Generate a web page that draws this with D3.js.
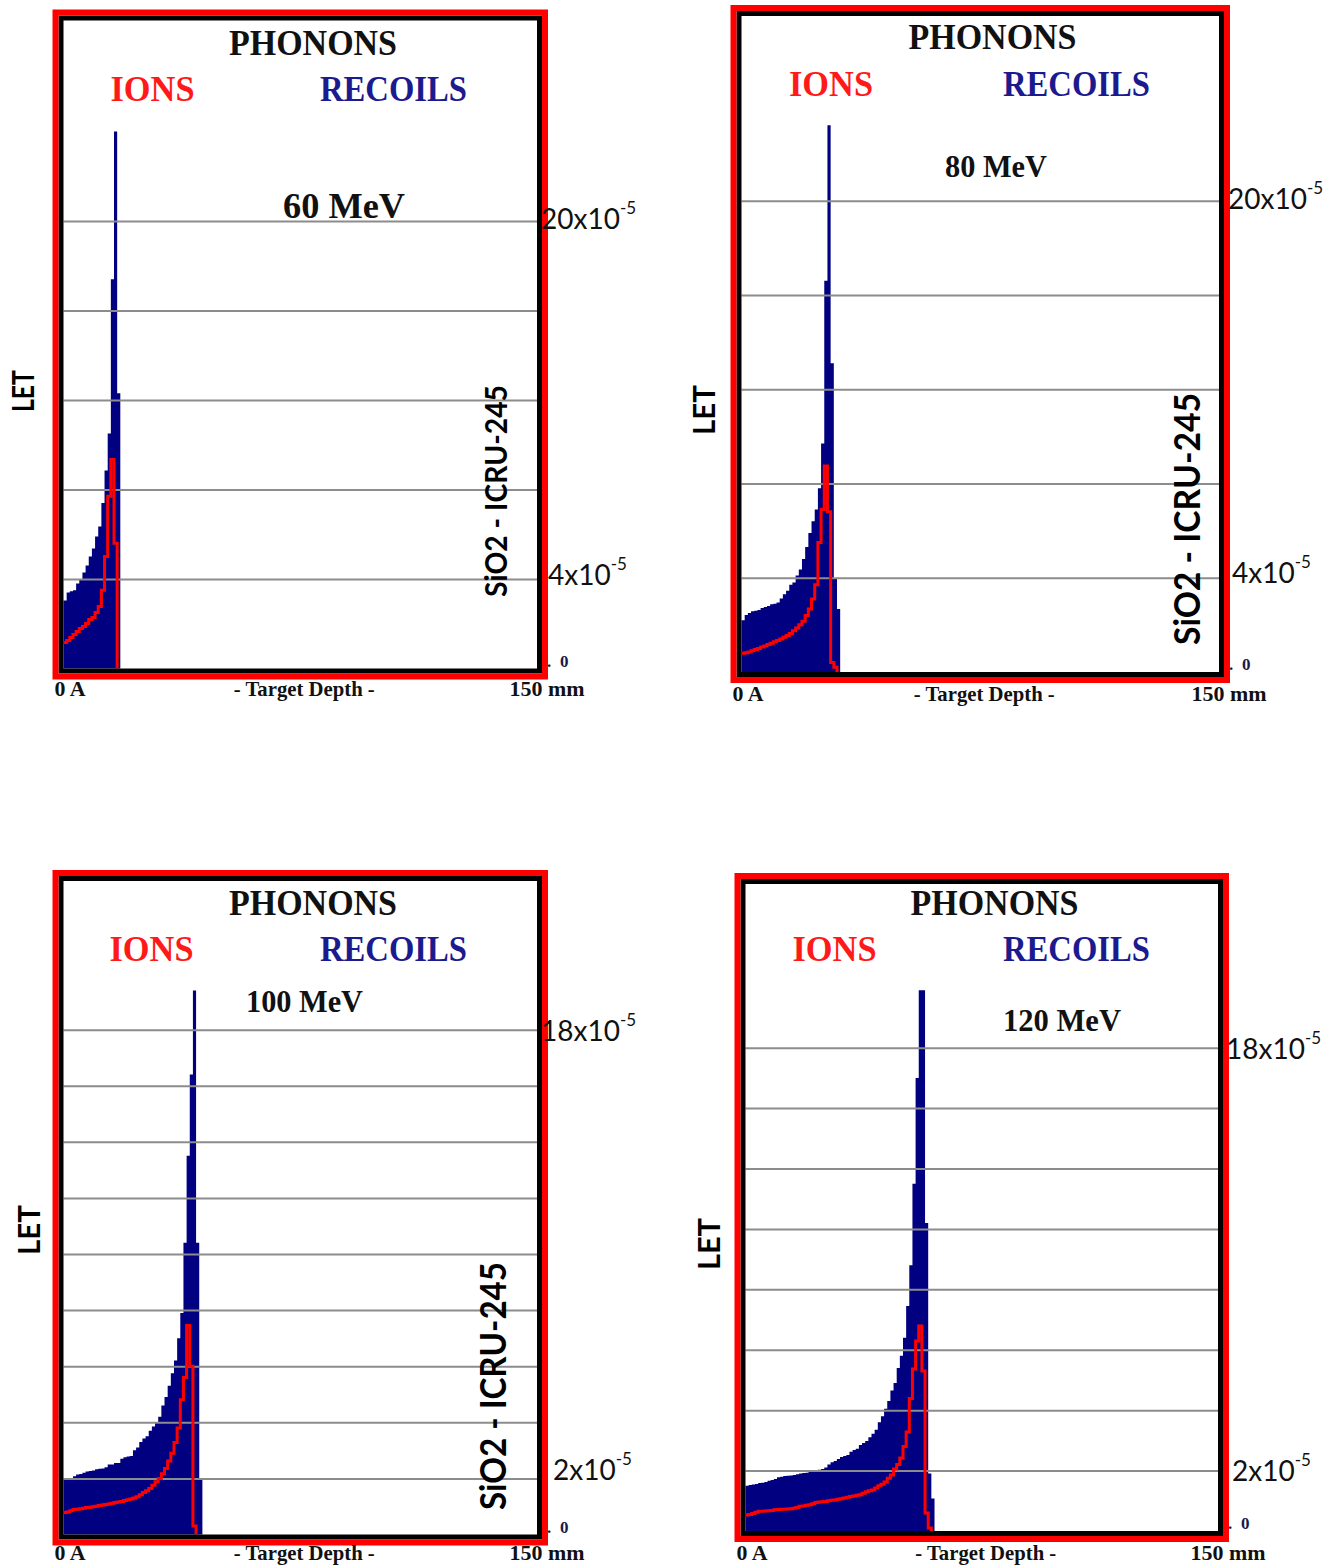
<!DOCTYPE html>
<html>
<head>
<meta charset="utf-8">
<script src="https://cdn.jsdelivr.net/npm/d3@7"></script>
<style>
  body { margin: 0; background: #fff; }
</style>
</head>
<body>
<svg id="chart"></svg>
<script>
// SRIM phonon LET profiles (SiO2 target).
// Depth bins are 1 mm wide, LET values are in units of 1e-5.

const energies = ['60 MeV', '80 MeV', '100 MeV', '120 MeV'];
const depthMax = 150;   // mm, "0 A" .. "150 mm"
const binWidth = 1;     // mm

// blue histogram (recoils)
const recoils60 = [3.04, 3.40, 3.45, 3.5, 3.8, 3.95, 4.29, 4.6, 5.0, 5.36, 5.9, 6.35,
    7.4, 8.85, 10.5, 17.4, 24.0, 12.3];
const recoils80 = [2.2, 2.42, 2.5, 2.58, 2.6, 2.63, 2.72, 2.76, 2.8, 2.88, 2.9, 2.95,
    3.12, 3.3, 3.45, 3.7, 3.8, 4.1, 4.35, 4.8, 5.3, 5.9, 6.4, 6.9, 7.8, 9.7, 16.6,
    23.2, 13.1, 3.95, 2.67];
const recoils100 = [1.96, 1.96, 1.98, 2.08, 2.14, 2.16, 2.2, 2.25, 2.26, 2.28, 2.33,
    2.34, 2.35, 2.4, 2.5, 2.5, 2.55, 2.55, 2.7, 2.75, 2.78, 2.8, 3.0, 3.1, 3.3, 3.42,
    3.5, 3.7, 3.85, 4.0, 4.2, 4.6, 4.9, 5.3, 5.75, 6.2, 7.0, 7.9, 10.4, 13.5, 16.4,
    19.4, 10.4, 1.96];
const recoils120 = [1.5, 1.52, 1.54, 1.56, 1.59, 1.6, 1.62, 1.66, 1.69, 1.72, 1.78,
    1.8, 1.82, 1.83, 1.84, 1.85, 1.88, 1.9, 1.92, 1.93, 1.95, 1.96, 1.98, 2.03, 2.05,
    2.1, 2.2, 2.28, 2.32, 2.38, 2.45, 2.48, 2.52, 2.62, 2.68, 2.72, 2.85, 2.91, 2.98,
    3.1, 3.22, 3.35, 3.6, 3.8, 4.05, 4.3, 4.65, 4.9, 5.4, 5.8, 6.4, 7.45, 8.8, 11.5,
    15.0, 17.9, 17.9, 10.2, 1.9, 1.08];

// red step line (ions)
const ions60 = [1.16, 1.25, 1.39, 1.52, 1.65, 1.79, 1.88, 2.01, 2.19, 2.28, 2.5, 2.77,
    3.5, 5.0, 7.7, 9.34, 5.6];
const ions80 = [0.8, 0.82, 0.85, 0.9, 0.95, 1.0, 1.06, 1.1, 1.17, 1.22, 1.28, 1.34,
    1.4, 1.48, 1.55, 1.63, 1.75, 1.87, 2.0, 2.15, 2.4, 2.67, 3.1, 3.7, 5.5, 6.9, 8.74,
    6.8, 0.4, 0.2];
const ions100 = [0.78, 0.8, 0.85, 0.89, 0.9, 0.92, 0.94, 0.96, 0.97, 0.99, 1.01, 1.03,
    1.05, 1.07, 1.09, 1.11, 1.14, 1.16, 1.18, 1.21, 1.24, 1.27, 1.3, 1.35, 1.42, 1.5,
    1.56, 1.64, 1.76, 1.88, 2.0, 2.17, 2.35, 2.62, 2.9, 3.28, 3.8, 4.8, 5.6, 7.45, 6.0,
    0.3];
const ions120 = [0.53, 0.55, 0.58, 0.62, 0.65, 0.65, 0.66, 0.67, 0.68, 0.7, 0.71, 0.72,
    0.72, 0.73, 0.74, 0.75, 0.78, 0.82, 0.83, 0.85, 0.87, 0.9, 0.94, 0.96, 0.97, 0.98,
    1.0, 1.02, 1.03, 1.05, 1.07, 1.09, 1.12, 1.14, 1.16, 1.18, 1.2, 1.25, 1.3, 1.33,
    1.36, 1.42, 1.5, 1.55, 1.62, 1.75, 1.85, 2.05, 2.2, 2.42, 2.8, 3.28, 4.39, 5.36,
    6.29, 6.79, 5.3, 0.6, 0.1];

// horizontal grid lines
const grid60 = [4, 8, 12, 16, 20];
const grid80 = [4, 8, 12, 16, 20];
const grid100 = [2, 4, 6, 8, 10, 12, 14, 16, 18];
const grid120 = [2, 4, 6, 8, 10, 12, 14, 16];

// right-hand labels: grid value they sit on, and the printed mantissa
const labelAt60 = [20, 4];   const labelText60 = ['20', '4'];
const labelAt80 = [20, 4];   const labelText80 = ['20', '4'];
const labelAt100 = [18, 2];  const labelText100 = ['18', '2'];
const labelAt120 = [16, 2];  const labelText120 = ['18', '2'];

const xLabels = ['0 A', '- Target Depth -', '150 mm'];

// ---- layout (pixels) ----
const layout = [
    {   // 60 MeV, top left
        x0: 63.5, x1: 537, top: 20.5, bottom: 668.5, yMax: 28.96,
        phonons: [313, 55], ions: [152.5, 101], recoils: [393.5, 101],
        energy: [344, 218, 36, 122], let: [22, 391, 42], sio2: [495, 491, 212, 31],
        labelPos: [[4, -3], [11, -5]], xLabelY: 696
    },
    {   // 80 MeV, top right
        x0: 741.5, x1: 1219, top: 16, bottom: 672, yMax: 27.84,
        phonons: [992.5, 49], ions: [831, 96], recoils: [1076.5, 96],
        energy: [996, 177, 32, 102], let: [703, 410, 50], sio2: [1186, 519, 252, 36],
        labelPos: [[9, -3], [13, -6]], xLabelY: 701
    },
    {   // 100 MeV, bottom left
        x0: 63.5, x1: 537, top: 881, bottom: 1534.5, yMax: 23.3,
        phonons: [313, 915], ions: [151.5, 961], recoils: [393.5, 961],
        energy: [304.5, 1012, 32, 117], let: [28, 1230, 50], sio2: [492, 1386, 248, 36],
        labelPos: [[4, 0], [16, -9]], xLabelY: 1560
    },
    {   // 120 MeV, bottom right
        x0: 745.5, x1: 1218, top: 884, bottom: 1531, yMax: 21.42,
        phonons: [994.5, 915], ions: [834.5, 961], recoils: [1076.5, 961],
        energy: [1062, 1031, 32, 118], let: [708, 1244, 52], sio2: null,
        labelPos: [[8, 0], [14, -1]], xLabelY: 1560
    }
];

const panels = [
    { energy: energies[0], recoils: recoils60, ions: ions60, grid: grid60, labelAt: labelAt60, labelText: labelText60 },
    { energy: energies[1], recoils: recoils80, ions: ions80, grid: grid80, labelAt: labelAt80, labelText: labelText80 },
    { energy: energies[2], recoils: recoils100, ions: ions100, grid: grid100, labelAt: labelAt100, labelText: labelText100 },
    { energy: energies[3], recoils: recoils120, ions: ions120, grid: grid120, labelAt: labelAt120, labelText: labelText120 }
];

const NAVY = '#000080';
const RED = '#ff0000';
const SERIF = '"Liberation Serif", "Times New Roman", serif';
const SANS = 'Lato, "Open Sans", sans-serif';

const svg = d3.select('#chart')
    .attr('width', 1341)
    .attr('height', 1567);

svg.append('rect')
    .attr('width', 1341)
    .attr('height', 1567)
    .attr('fill', '#fff');

panels.forEach((p, i) => drawPanel(p, layout[i]));

function drawPanel(p, L) {
    const g = svg.append('g');

    const x = d3.scaleLinear().domain([0, depthMax]).range([L.x0, L.x1]);
    const y = d3.scaleLinear().domain([0, L.yMax]).range([L.bottom, L.top]);

    // recoils histogram
    const recPts = p.recoils.map((v, i) => [i * binWidth, v]);
    recPts.push([p.recoils.length * binWidth, p.recoils[p.recoils.length - 1]]);

    g.append('path')
        .datum(recPts)
        .attr('fill', NAVY)
        .attr('d', d3.area()
            .curve(d3.curveStepAfter)
            .x(d => x(d[0]))
            .y0(y(0))
            .y1(d => y(d[1])));

    // grid lines
    g.append('g')
        .attr('transform', `translate(${L.x0},0)`)
        .call(d3.axisLeft(y)
            .tickValues(p.grid)
            .tickSize(-(L.x1 - L.x0))
            .tickFormat(''))
        .call(a => a.select('.domain').remove())
        .call(a => a.selectAll('.tick line')
            .attr('stroke', '#8c8c8c')
            .attr('stroke-width', 2));

    // ions step line, dropping to zero after the last bin
    const ionPts = p.ions.map((v, i) => [i * binWidth, v]);
    ionPts.push([p.ions.length * binWidth, 0]);

    g.append('path')
        .datum(ionPts)
        .attr('fill', 'none')
        .attr('stroke', RED)
        .attr('stroke-width', 3)
        .attr('d', d3.line()
            .curve(d3.curveStepAfter)
            .x(d => x(d[0]))
            .y(d => y(d[1])));

    // black frame, then red frame around it
    const w = L.x1 - L.x0;
    const h = L.bottom - L.top;
    g.append('rect')
        .attr('x', L.x0 - 2.5).attr('y', L.top - 2.5)
        .attr('width', w + 5).attr('height', h + 5)
        .attr('fill', 'none').attr('stroke', '#000').attr('stroke-width', 5);
    g.append('rect')
        .attr('x', L.x0 - 8).attr('y', L.top - 8)
        .attr('width', w + 16).attr('height', h + 16)
        .attr('fill', 'none').attr('stroke', RED).attr('stroke-width', 6);

    // header texts
    const head = (pos, text, color, len, size = 35) => g.append('text')
        .attr('x', pos[0]).attr('y', pos[1])
        .attr('text-anchor', 'middle')
        .attr('textLength', len)
        .attr('lengthAdjust', 'spacingAndGlyphs')
        .style('font-family', SERIF)
        .style('font-weight', 'bold')
        .style('font-size', size + 'px')
        .style('fill', color)
        .text(text);

    head(L.phonons, 'PHONONS', '#111', 168);
    head(L.ions, 'IONS', '#ff1a1a', 84);
    head(L.recoils, 'RECOILS', '#1b1b8f', 147);
    head(L.energy, p.energy, '#111', L.energy[3], L.energy[2]);

    // rotated labels
    g.append('text')
        .attr('transform', `translate(${L.let[0]},${L.let[1]}) rotate(-90)`)
        .attr('text-anchor', 'middle')
        .attr('dominant-baseline', 'central')
        .attr('textLength', L.let[2])
        .attr('lengthAdjust', 'spacingAndGlyphs')
        .style('font-family', SANS)
        .style('font-weight', 'bold')
        .style('font-size', '30px')
        .style('fill', '#000')
        .text('LET');

    if (L.sio2) {
        g.append('text')
            .attr('transform', `translate(${L.sio2[0]},${L.sio2[1]}) rotate(-90)`)
            .attr('text-anchor', 'middle')
            .attr('dominant-baseline', 'central')
            .attr('textLength', L.sio2[2])
            .attr('lengthAdjust', 'spacingAndGlyphs')
            .style('font-family', SANS)
            .style('font-weight', 'bold')
            .style('font-size', L.sio2[3] + 'px')
            .style('fill', '#000')
            .text('SiO2 - ICRU-245');
    }

    // right-hand value labels
    p.labelAt.forEach((v, i) => {
        const t = g.append('text')
            .attr('x', L.x1 + L.labelPos[i][0])
            .attr('y', y(v) + L.labelPos[i][1])
            .attr('dominant-baseline', 'central')
            .style('font-family', SANS)
            .style('font-size', '28px')
            .style('fill', '#111');
        t.append('tspan').text(p.labelText[i] + 'x10');
        t.append('tspan')
            .attr('dy', -11)
            .style('font-size', '17px')
            .text('-5');
    });

    // ". 0" at the baseline
    g.append('text')
        .attr('x', L.x1 + 10).attr('y', y(0) - 2)
        .style('font-family', SERIF).style('font-weight', 'bold')
        .style('font-size', '17px').style('fill', '#1a1a4a')
        .text('.');
    g.append('text')
        .attr('x', L.x1 + 23).attr('y', y(0) - 2)
        .style('font-family', SERIF).style('font-weight', 'bold')
        .style('font-size', '17px').style('fill', '#1a1a4a')
        .text('0');

    // depth axis labels under the frame
    const xl = [
        { t: xLabels[0], x: x(0) - 9, anchor: 'start', len: 31 },
        { t: xLabels[1], x: x(depthMax / 2) + 4, anchor: 'middle', len: 141 },
        { t: xLabels[2], x: x(depthMax) + 10, anchor: 'middle', len: 75 }
    ];
    xl.forEach(d => {
        g.append('text')
            .attr('x', d.x).attr('y', L.xLabelY)
            .attr('text-anchor', d.anchor)
            .attr('textLength', d.len)
            .attr('lengthAdjust', 'spacingAndGlyphs')
            .style('font-family', SERIF)
            .style('font-weight', 'bold')
            .style('font-size', '21px')
            .style('fill', '#111')
            .text(d.t);
    });
}
</script>
</body>
</html>
